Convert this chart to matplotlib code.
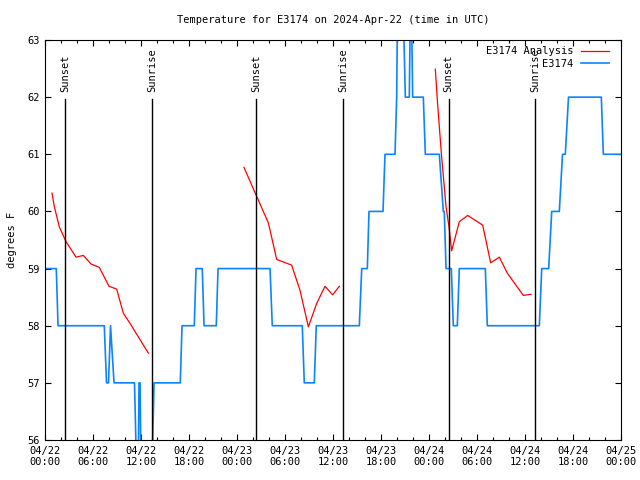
import numpy as np
import matplotlib.pyplot as plt
from matplotlib.ticker import MultipleLocator

# hours since 2024-04-22 00:00 UTC
obs_hours = [0, 1.41, 1.63, 7.41, 7.69, 7.94, 8.19, 8.63, 11.19, 11.44, 11.66,
             11.75, 11.88, 12.0, 13.38, 13.63, 16.91, 17.13, 18.66, 18.88,
             19.66, 19.88, 21.41, 21.63, 28.13, 28.41, 32.16, 32.41, 33.66,
             33.91, 39.29, 39.59, 40.29, 40.5, 42.25, 42.5, 43.75, 43.96,
             44.06, 44.79, 45.04, 45.54, 45.66, 45.81, 45.96, 47.29, 47.54,
             49.29, 49.79, 49.91, 50.13, 50.79, 51.04, 51.54, 51.79, 55.04,
             55.29, 61.79, 62.09, 62.96, 63.34, 64.29, 64.69, 65.04, 65.44,
             69.54, 69.79, 72.0]
obs_temp = [59, 59, 58, 58, 57, 57, 58, 57, 57, 55.5, 55.5,
            57, 57, 55.5, 55.5, 57, 57, 58, 58, 59,
            59, 58, 58, 59, 59, 58, 58, 57, 57,
            58, 58, 59, 59, 60, 60, 61, 61, 62,
            63.5, 63.5, 62, 62, 63.5, 63.5, 62, 62, 61,
            61, 60, 60, 59, 59, 58, 58, 59, 59,
            58, 58, 59, 59, 60, 60, 61, 61, 62,
            62, 61, 61]

# analysis, three runs
ana1_hours = [0.875, 1.17, 1.79, 2.63, 3.88, 4.79, 5.75, 6.79, 8.0, 8.96, 9.79, 10.63, 12.92]
ana1_temp = [60.32, 60.08, 59.73, 59.47, 59.20, 59.23, 59.08, 59.02, 58.69, 58.64, 58.22, 58.04, 57.52]
ana2_hours = [24.875, 26.375, 27.92, 28.96, 30.83, 31.875, 32.92, 33.96, 35.0, 35.96, 36.79]
ana2_temp = [60.77, 60.29, 59.80, 59.16, 59.06, 58.62, 57.98, 58.39, 58.69, 58.54, 58.69]
ana3_hours = [48.79, 49.04, 49.54, 50.13, 50.5, 50.83, 51.79, 52.83, 54.71, 55.71,
              56.79, 57.79, 59.79, 60.75]
ana3_temp = [62.49, 61.95, 61.02, 60.08, 59.73, 59.31, 59.82, 59.93, 59.76, 59.10,
             59.20, 58.92, 58.53, 58.55]

sun_hours = [2.54, 13.41, 26.41, 37.29, 50.46, 61.29]
sun_labels = ['Sunset', 'Sunrise', 'Sunset', 'Sunrise', 'Sunset', 'Sunrise']

xtick_hours = [0, 6, 12, 18, 24, 30, 36, 42, 48, 54, 60, 66, 72]
xtick_labels = ['04/22\n00:00', '04/22\n06:00', '04/22\n12:00', '04/22\n18:00',
                '04/23\n00:00', '04/23\n06:00', '04/23\n12:00', '04/23\n18:00',
                '04/24\n00:00', '04/24\n06:00', '04/24\n12:00', '04/24\n18:00',
                '04/25\n00:00']

plt.rcParams['font.family'] = ['DejaVu Sans Mono']
fs = 7.5
red = '#ff0000'
blue = '#0a84ff'

fig = plt.figure(figsize=(6.4, 4.8), dpi=100)
ax = fig.add_axes([45/640, 40/480, 576/640, 400/480])

ax.plot(ana1_hours, ana1_temp, color=red, lw=0.9, label='E3174 Analysis')
ax.plot(ana2_hours, ana2_temp, color=red, lw=0.9)
ax.plot(ana3_hours, ana3_temp, color=red, lw=0.9)
ax.plot(obs_hours, obs_temp, color=blue, lw=1.2, label='E3174')

for h, lab in zip(sun_hours, sun_labels):
    ax.plot([h, h], [56, 61.97], color='black', lw=1.0)
    ax.text(h, 62.09, lab, rotation=90, ha='center', va='bottom', fontsize=fs)

ax.set_xlim(0, 72)
ax.set_ylim(56, 63)
ax.set_xticks(xtick_hours)
ax.set_xticklabels(xtick_labels)
ax.xaxis.set_minor_locator(MultipleLocator(2))
ax.yaxis.set_major_locator(MultipleLocator(1))
ax.tick_params(which='both', direction='in', top=True, right=True, labelsize=fs)
ax.tick_params(which='major', length=4.5, width=0.8)
ax.tick_params(which='minor', length=2.5, width=0.8)
ax.tick_params(axis='x', pad=4)
for s in ax.spines.values():
    s.set_linewidth(0.8)

ax.set_ylabel('degrees F', fontsize=fs, labelpad=8)
ax.set_title('Temperature for E3174 on 2024-Apr-22 (time in UTC)', fontsize=fs, pad=12)

ax.legend(loc='upper right', bbox_to_anchor=(0.9896, 1.0), frameon=False,
          markerfirst=False, alignment='right', fontsize=fs, handlelength=2.7,
          labelspacing=0.25, borderaxespad=0.2, handletextpad=0.7)

fig.savefig('out.png')
